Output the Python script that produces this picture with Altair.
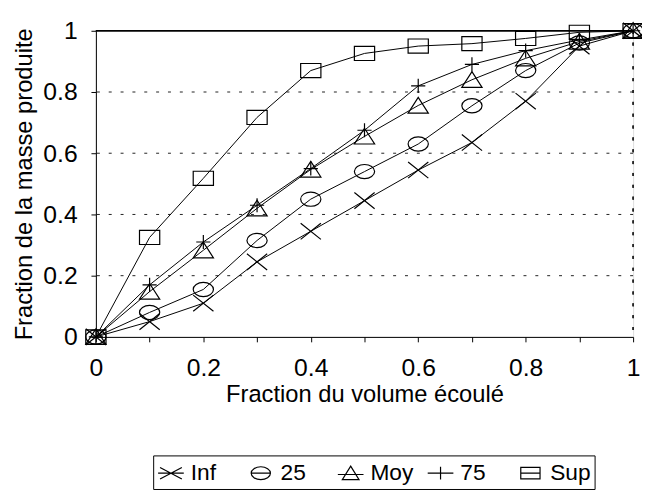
import altair as alt
import pandas as pd

# ---- data ----
x_vals = [0.0, 0.1, 0.2, 0.3, 0.4, 0.5, 0.6, 0.7, 0.8, 0.9, 1.0]
series_names = ["Inf", "25", "Moy", "75", "Sup"]
inf_vals = [0, 0.05, 0.11, 0.245, 0.345, 0.445, 0.545, 0.635, 0.77, 0.95, 1]
q25_vals = [0, 0.08, 0.155, 0.315, 0.45, 0.54, 0.63, 0.755, 0.87, 0.96, 1]
moy_vals = [0, 0.148, 0.283, 0.42, 0.547, 0.655, 0.756, 0.84, 0.91, 0.965, 1]
q75_vals = [0, 0.17, 0.31, 0.43, 0.55, 0.675, 0.82, 0.89, 0.935, 0.97, 1]
sup_vals = [0, 0.325, 0.518, 0.717, 0.87, 0.926, 0.95, 0.958, 0.975, 0.995, 1]
tick_values = [0.0, 0.1, 0.2, 0.3, 0.4, 0.5, 0.6, 0.7, 0.8, 0.9, 1.0]
grid_values = [0.2, 0.4, 0.6, 0.8]

all_vals = [inf_vals, q25_vals, moy_vals, q75_vals, sup_vals]
rows = []
for name, vals in zip(series_names, all_vals):
    for xv, yv in zip(x_vals, vals):
        rows.append({"serie": name, "x": xv, "y": yv})
df = pd.DataFrame(rows)
grid_df = pd.DataFrame({"g": grid_values})

# marker shapes (chart) and legend symbols (with Excel-style line sample)
chart_paths = [
    "M-1,-0.8L1,0.8M-1,0.8L1,-0.8",
    "M-1,0A1,0.7 0 1,1 1,0A1,0.7 0 1,1 -1,0Z",
    "M0,-0.8L1,0.75L-1,0.75Z",
    "M-0.7,0L0.7,0M0,-0.7L0,0.7",
    "M-1,-0.7L1,-0.7L1,0.7L-1,0.7Z",
]
legend_paths = [
    "M-1,0L1,0M-0.85,-0.45L0.85,0.45M-0.85,0.45L0.85,-0.45",
    "M-0.75,0L0.75,0M-0.75,0A0.75,0.5 0 1,1 0.75,0A0.75,0.5 0 1,1 -0.75,0Z",
    "M-1,0.1L1,0.1M0,-0.55L0.65,0.5L-0.65,0.5Z",
    "M-1,0L1,0M0,-0.5L0,0.5",
    "M-0.75,0L0.75,0M-0.75,-0.45L0.75,-0.45L0.75,0.45L-0.75,0.45Z",
]

FONT = "Liberation Sans"
label_expr = "round(datum.value*10) % 2 == 0 ? format(datum.value, '.1~f') : ''"

x_scale = alt.Scale(domain=[0, 1], nice=False)
y_scale = alt.Scale(domain=[0, 1], nice=False)

x_axis = alt.Axis(values=tick_values, labelExpr=label_expr, title="Fraction du volume écoulé",
                  grid=False, tickSize=5, labelPadding=14, titlePadding=2,
                  labelFontSize=25, titleFontSize=24, labelFont=FONT, titleFont=FONT,
                  titleFontWeight="normal", labelColor="black", titleColor="black",
                  domainColor="black", tickColor="black", labelFlush=False)
y_axis = alt.Axis(values=tick_values, labelExpr=label_expr, title="Fraction de la masse produite",
                  grid=False, tickSize=5, labelPadding=14, titlePadding=6,
                  labelFontSize=25, titleFontSize=24, labelFont=FONT, titleFont=FONT,
                  titleFontWeight="normal", labelColor="black", titleColor="black",
                  domainColor="black", tickColor="black", labelFlush=False)

base = alt.Chart(df)

grid = alt.Chart(grid_df).mark_rule(color="#222", strokeWidth=1, strokeDash=[3, 9]).encode(
    y=alt.Y("g:Q", scale=y_scale, axis=y_axis)
)
top_rule = alt.Chart(grid_df).mark_rule(color="black", strokeWidth=1).encode(
    y=alt.datum(1)
)
right_rule = alt.Chart(grid_df).mark_rule(color="#222", strokeWidth=1, strokeDash=[3, 9]).encode(
    x=alt.datum(1)
)

lines = base.mark_line(color="black", strokeWidth=1).encode(
    x=alt.X("x:Q", scale=x_scale, axis=x_axis),
    y=alt.Y("y:Q", scale=y_scale, axis=y_axis),
    detail="serie:N",
)

points = base.mark_point(filled=False, color="black", strokeWidth=1.2, size=420, opacity=1).encode(
    x=alt.X("x:Q", scale=x_scale),
    y=alt.Y("y:Q", scale=y_scale),
    shape=alt.Shape("serie:N", scale=alt.Scale(domain=series_names, range=chart_paths), legend=None),
)

legend_layer = base.mark_point(filled=False, color="black", opacity=0, size=676).encode(
    x=alt.X("x:Q", scale=x_scale),
    y=alt.Y("y:Q", scale=y_scale),
    shape=alt.Shape(
        "serie:N",
        scale=alt.Scale(domain=series_names, range=legend_paths),
        legend=alt.Legend(
            title=None, orient="none", direction="horizontal", columns=5,
            legendX=58, legendY=430, gridAlign="all",
            symbolSize=676, symbolOpacity=1, symbolStrokeColor="black",
            symbolFillColor="transparent", symbolStrokeWidth=1.2,
            labelFont=FONT, labelFontSize=23, labelColor="black", labelOffset=6,
            columnPadding=11, padding=4, strokeColor="black", fillColor="white",
            labelLimit=200,
        ),
    ),
)

chart = alt.layer(grid, top_rule, right_rule, lines, points, legend_layer).resolve_scale(
    shape="independent"
).properties(
    width=544, height=310,
    autosize=alt.AutoSizeParams(type="none"),
    padding={"left": 89, "top": 20, "right": 9, "bottom": 155},
).configure_view(stroke=None).configure(background="white")

chart.save("out.html", embed_options={"renderer": "svg", "actions": False})
